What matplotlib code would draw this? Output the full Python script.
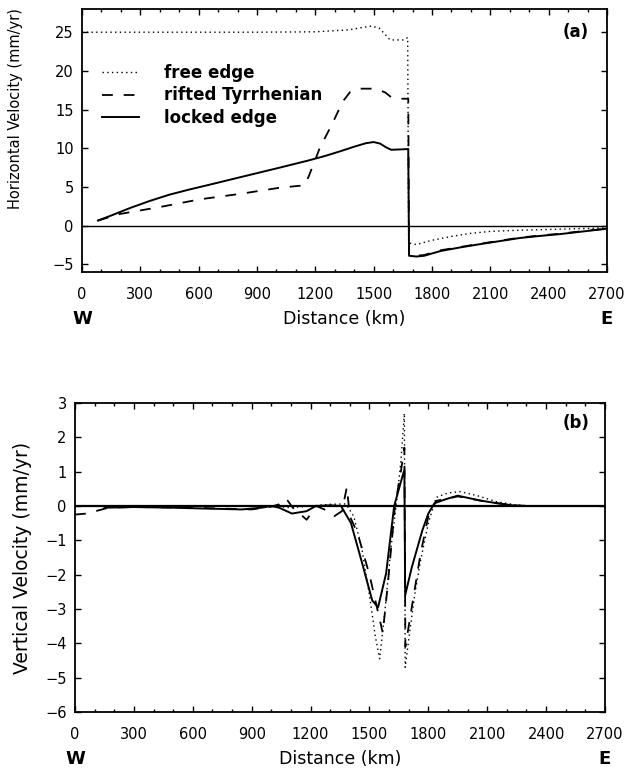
import matplotlib
matplotlib.use('Agg')
import matplotlib.pyplot as plt
from matplotlib.ticker import MultipleLocator

# ---- panel (a): horizontal velocity ----
free_a_km = [0, 300, 600, 900, 1200, 1370, 1440, 1490, 1530, 1585, 1650, 1675,
             1680, 1690, 1720, 1800, 1900, 2000, 2100, 2250, 2400, 2550, 2700]
free_a_vel = [25, 25, 25, 25, 25.05, 25.3, 25.6, 25.8, 25.5, 24.0, 24.0, 24.3,
              -2.2, -2.3, -2.45, -1.9, -1.4, -1.0, -0.75, -0.6, -0.5, -0.4, -0.3]

rifted_a_km = [82, 195, 401, 607, 813, 1018, 1142, 1165, 1224, 1286, 1340, 1380,
               1430, 1512, 1560, 1590, 1640, 1678, 1682, 1720, 1760, 1842, 1950,
               2047, 2150, 2253, 2350, 2459, 2580, 2700]
rifted_a_vel = [0.65, 1.5, 2.4, 3.4, 4.1, 4.9, 5.2, 6.3, 10.1, 13.1, 16.0, 17.3,
                17.7, 17.7, 17.2, 16.6, 16.4, 16.4, -3.85, -3.9, -3.8, -3.2, -2.75,
                -2.35, -1.95, -1.55, -1.3, -1.05, -0.7, -0.4]

locked_a_km = [82, 150, 250, 350, 450, 550, 650, 813, 1018, 1162, 1250, 1327, 1400,
               1460, 1500, 1533, 1565, 1590, 1640, 1678, 1682, 1720, 1760, 1842,
               1950, 2047, 2150, 2253, 2350, 2459, 2580, 2700]
locked_a_vel = [0.65, 1.3, 2.3, 3.2, 4.0, 4.65, 5.25, 6.25, 7.5, 8.4, 9.0, 9.6, 10.2,
                10.65, 10.8, 10.6, 10.1, 9.8, 9.85, 9.9, -3.9, -4.0, -3.9, -3.3,
                -2.8, -2.4, -2.0, -1.6, -1.35, -1.1, -0.75, -0.4]

# ---- panel (b): vertical velocity ----
free_b_km = [0, 300, 600, 900, 1000, 1100, 1200, 1300, 1380, 1420, 1460, 1500,
             1530, 1552, 1580, 1610, 1640, 1660, 1678, 1682, 1700, 1730, 1760,
             1800, 1840, 1900, 1960, 2050, 2150, 2250, 2320, 2700]
free_b_vel = [0, 0, 0, 0, 0, -0.05, 0.0, 0.05, 0.06, -0.3, -1.2, -2.6,
              -3.8, -4.45, -3.0, -1.2, 0.2, 1.3, 2.7, -4.7, -3.9, -2.6, -1.6,
              -0.5, 0.25, 0.38, 0.42, 0.3, 0.12, 0.03, 0, 0]

rifted_b_km = [0, 60, 170, 300, 600, 900, 1000, 1040, 1075, 1110, 1180, 1230,
               1270, 1320, 1360, 1385, 1400, 1440, 1500, 1540, 1568, 1595, 1630,
               1660, 1678, 1683, 1720, 1760, 1800, 1840, 1950, 2100, 2250, 2320, 2700]
rifted_b_vel = [-0.25, -0.22, -0.05, -0.03, -0.05, -0.1, -0.02, 0.05, 0.22, -0.05,
                -0.4, 0.0, -0.1, -0.3, -0.15, 0.55, -0.3, -0.8, -2.0, -3.0, -3.7,
                -2.2, 0.0, 1.0, 1.7, -4.1, -2.8, -1.4, -0.3, 0.15, 0.28, 0.12,
                0.01, 0, 0]

locked_b_km = [150, 300, 500, 700, 850, 950, 1000, 1040, 1105, 1180, 1227, 1300,
               1355, 1406, 1463, 1514, 1544, 1585, 1626, 1660, 1678, 1682, 1716,
               1770, 1800, 1831, 1890, 1950, 2064, 2150, 2228, 2300, 2700]
locked_b_vel = [-0.05, -0.03, -0.05, -0.08, -0.1, -0.05, 0, -0.05, -0.22, -0.15, 0,
                0.02, 0, -0.5, -1.67, -2.75, -2.95, -1.96, 0, 0.7, 1.05, -2.6,
                -1.78, -0.7, -0.22, 0.08, 0.2, 0.3, 0.16, 0.08, 0.02, 0, 0]

xticks = list(range(0, 2701, 300))

DOT = (0, (1, 2.4))
DASH = (0, (6, 6))

fig = plt.figure(figsize=(6.27, 7.73), dpi=100)
ax_a = fig.add_axes([82/627, 1 - 272/773, 525/627, 263/773])
ax_b = fig.add_axes([75/627, 1 - 712/773, 530/627, 309/773])


def style_axis(ax):
    ax.set_xlim(0, 2700)
    ax.set_xticks(xticks)
    ax.xaxis.set_minor_locator(MultipleLocator(100))
    ax.tick_params(which='both', direction='in', top=True, right=True,
                   labelsize=10.5, width=1)
    ax.tick_params(axis='x', pad=11)
    ax.tick_params(axis='y', pad=6)
    ax.tick_params(which='major', length=4)
    ax.tick_params(which='minor', length=2)
    for sp in ax.spines.values():
        sp.set_linewidth(1.3)
    for txt, xpos, fs, fw in [('W', 0, 13, 'bold'), ('E', 2700, 13, 'bold'),
                              ('Distance (km)', 1350, 12.5, 'normal')]:
        ax.annotate(txt, xy=(xpos, 0), xycoords=ax.get_xaxis_transform(),
                    xytext=(0, -34), textcoords='offset points',
                    ha='center', va='center', fontsize=fs, fontweight=fw)


# panel (a)
ax_a.axhline(0, color='black', lw=1.0)
ax_a.plot(free_a_km, free_a_vel, color='black', lw=1.0, linestyle=DOT,
          label='free edge')
ax_a.plot(rifted_a_km, rifted_a_vel, color='black', lw=1.3, linestyle=DASH,
          label='rifted Tyrrhenian')
ax_a.plot(locked_a_km, locked_a_vel, color='black', lw=1.4, label='locked edge')
ax_a.set_ylim(-6, 28)
ax_a.set_yticks([-5, 0, 5, 10, 15, 20, 25])
style_axis(ax_a)
ax_a.set_ylabel('Horizontal Velocity (mm/yr)', fontsize=10.5)
ax_a.yaxis.set_label_coords(-0.112, 0.62)
ax_a.text(0.941, 0.913, '(a)', transform=ax_a.transAxes, ha='center',
          va='center', fontsize=12, fontweight='bold')
ax_a.legend(loc='upper left', bbox_to_anchor=(0.038, 0.79), frameon=False,
            borderpad=0, borderaxespad=0, handlelength=2.2,
            handletextpad=1.5, labelspacing=0.25,
            prop={'size': 12, 'weight': 'bold'})

# panel (b)
ax_b.axhline(0, color='black', lw=1.6)
ax_b.plot(free_b_km, free_b_vel, color='black', lw=1.0, linestyle=DOT)
ax_b.plot(rifted_b_km, rifted_b_vel, color='black', lw=1.3, linestyle=DASH)
ax_b.plot(locked_b_km, locked_b_vel, color='black', lw=1.4)
ax_b.set_ylim(-6, 3)
ax_b.set_yticks(range(-6, 4))
style_axis(ax_b)
ax_b.set_ylabel('Vertical Velocity (mm/yr)', fontsize=13.5)
ax_b.yaxis.set_label_coords(-0.081, 0.5)
ax_b.text(0.945, 0.935, '(b)', transform=ax_b.transAxes, ha='center',
          va='center', fontsize=12, fontweight='bold')

fig.savefig('out.png', dpi=100)
